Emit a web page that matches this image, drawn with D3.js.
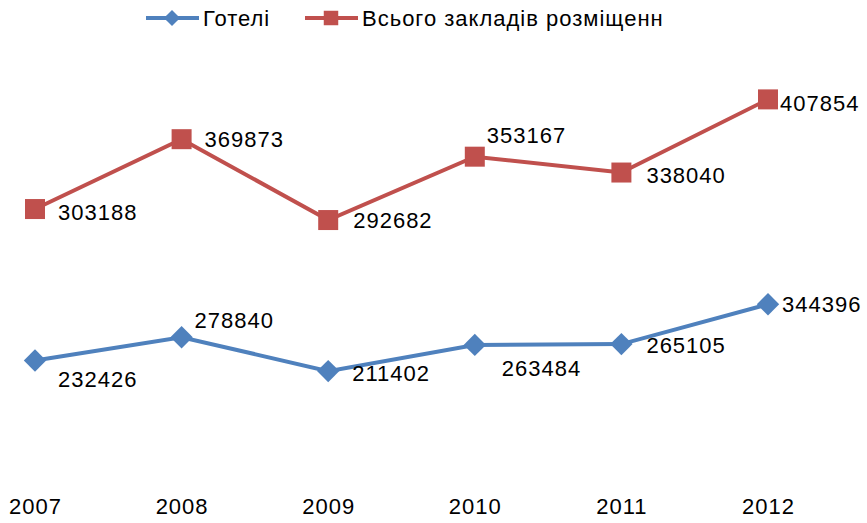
<!doctype html>
<html>
<head>
<meta charset="utf-8">
<title>Готелі та заклади розміщення</title>
<script src="https://cdn.jsdelivr.net/npm/d3@7"></script>
<style>
  body { margin: 0; background: #fff; }
  svg text { font-family: "Liberation Sans", Arial, sans-serif; fill: #000; letter-spacing: 1px; }
</style>
</head>
<body>
<svg id="chart" width="867" height="523"></svg>
<script>
// data
var years = ["2007", "2008", "2009", "2010", "2011", "2012"];
var hotels = [232426, 278840, 211402, 263484, 265105, 344396];
var totals = [303188, 369873, 292682, 353167, 338040, 407854];
var seriesNames = ["Готелі", "Всього закладів розміщенн"];

// where each value label sits relative to its marker
var hotelLabelOffset = [[23, 19], [13, -17], [24, 2], [27, 23], [25, 1], [14, 0]];
var totalLabelOffset = [[23, 3], [23, 0], [25, 0], [12, -21], [25, 3], [12, 4]];

var svg = d3.select("#chart");
var blue = "#4f81bd", red = "#c0504d";

var x = d3.scalePoint().domain(years).range([35, 768]);
// Excel-style: hotels on the primary axis, totals on the (hidden) secondary axis
var yHotels = d3.scaleLinear().domain([-25000, 850000]).range([490, 50]);
var yTotals = d3.scaleLinear().domain([35000, 455000]).range([490, 50]);

// x axis labels only, no line or ticks
var xAxis = svg.append("g")
    .attr("transform", "translate(0,498)")
    .call(d3.axisBottom(x).tickSize(0).tickPadding(0));
xAxis.select(".domain").remove();
xAxis.selectAll("text")
    .style("font-size", "22px")
    .style("font-family", "'Liberation Sans', Arial, sans-serif")
    .style("letter-spacing", "1px")
    .attr("dy", "0.71em");

function drawSeries(values, y, color, symbolType, symbolSize, rotate, offsets) {
    var pts = values.map(function(v, i) { return [x(years[i]), y(v), v]; });
    svg.append("path")
        .attr("d", d3.line()(pts))
        .attr("fill", "none")
        .attr("stroke", color)
        .attr("stroke-width", 4);
    svg.selectAll(null).data(pts).enter().append("path")
        .attr("d", d3.symbol().type(symbolType).size(symbolSize))
        .attr("transform", function(d) { return "translate(" + d[0] + "," + d[1] + ") rotate(" + rotate + ")"; })
        .attr("fill", color);
    svg.selectAll(null).data(pts).enter().append("text")
        .attr("x", function(d, i) { return d[0] + offsets[i][0]; })
        .attr("y", function(d, i) { return d[1] + offsets[i][1]; })
        .attr("dy", "0.35em")
        .style("font-size", "22px")
        .text(function(d) { return d[2]; });
}

drawSeries(totals, yTotals, red, d3.symbolSquare, 400, 0, totalLabelOffset);
drawSeries(hotels, yHotels, blue, d3.symbolSquare, 250, 45, hotelLabelOffset);

// legend
var legend = [
    { name: seriesNames[0], color: blue, x: 146, rot: 45, size: 130 },
    { name: seriesNames[1], color: red, x: 305, rot: 0, size: 210 }
];
var lg = svg.selectAll(".lg").data(legend).enter().append("g")
    .attr("transform", function(d) { return "translate(" + d.x + ",18)"; });
lg.append("line")
    .attr("x1", 0).attr("x2", 53)
    .attr("stroke", function(d) { return d.color; })
    .attr("stroke-width", 4);
lg.append("path")
    .attr("d", function(d) { return d3.symbol().type(d3.symbolSquare).size(d.size)(); })
    .attr("transform", function(d) { return "translate(26,0) rotate(" + d.rot + ")"; })
    .attr("fill", function(d) { return d.color; });
lg.append("text")
    .attr("x", 57)
    .attr("dy", "0.35em")
    .style("font-size", "22px")
    .text(function(d) { return d.name; });
</script>
</body>
</html>
